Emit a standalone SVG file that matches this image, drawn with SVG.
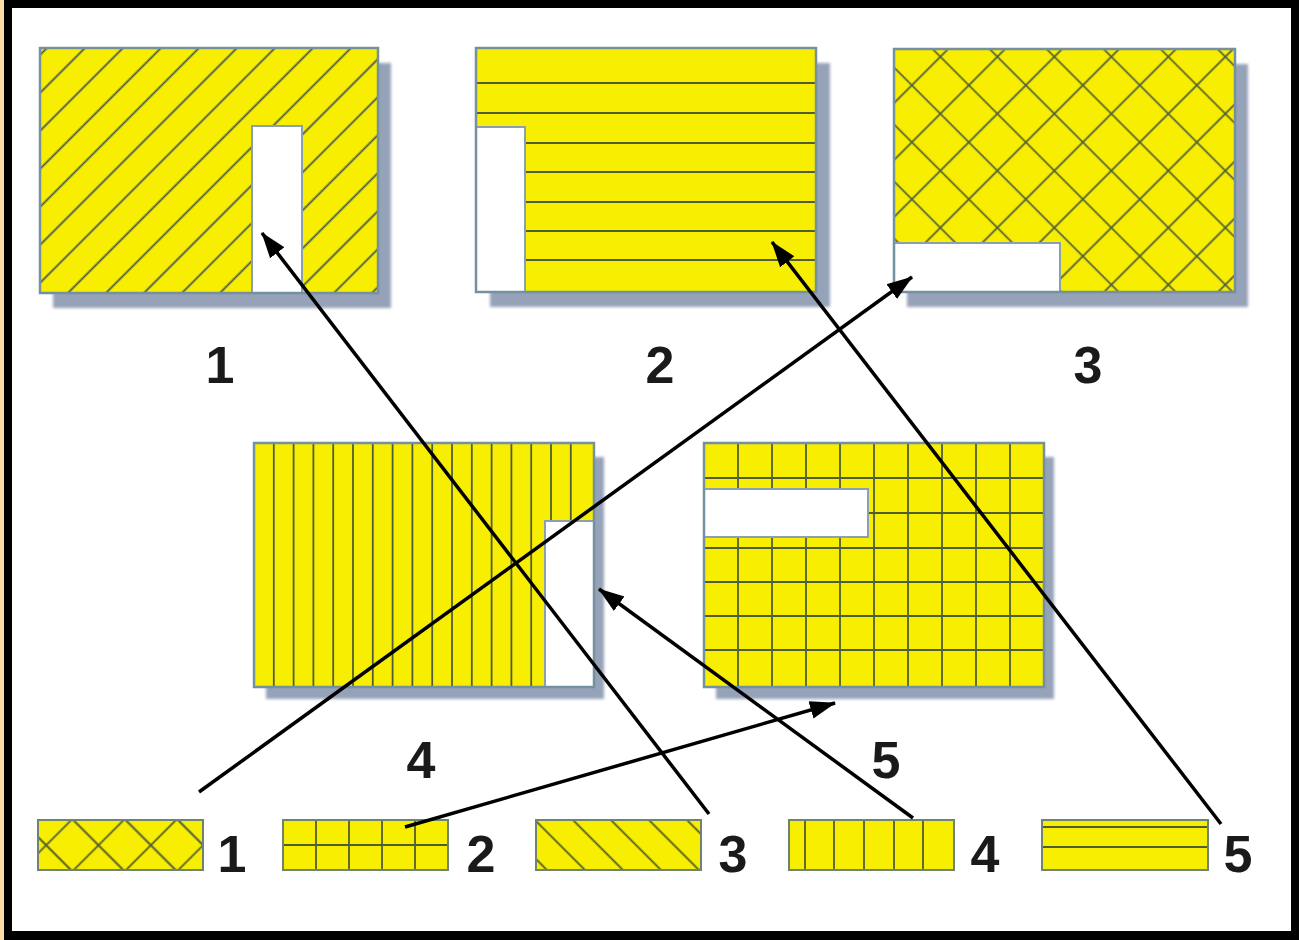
<svg xmlns="http://www.w3.org/2000/svg" width="1299" height="940" viewBox="0 0 1299 940">
<defs>
<style>
.fill{fill:#f8ee02}
.bd{fill:none;stroke:#7590a0;stroke-width:2.5}
.sbd{fill:none;stroke:#6f8470;stroke-width:2}
.h{stroke:#4f5d38;stroke-width:1.8;fill:none}
.notch{fill:#ffffff;stroke:#8aa0b0;stroke-width:2}
.sh{fill:#95a2b8;filter:url(#blur)}
.lbl{font-family:"Liberation Sans",Arial,sans-serif;font-size:52px;font-weight:bold;fill:#1a1a1a;text-anchor:middle}
.arr{stroke:#000;stroke-width:3.5;fill:none;marker-end:url(#ah)}
</style>
<filter id="blur" x="-10%" y="-10%" width="120%" height="120%"><feGaussianBlur stdDeviation="1.5"/></filter>
<marker id="ah" markerUnits="userSpaceOnUse" markerWidth="28" markerHeight="20" refX="25" refY="10" orient="auto"><path d="M0,1 L26,10 L0,19 Z" fill="#000"/></marker>
<pattern id="p1" patternUnits="userSpaceOnUse" width="26.87" height="20" patternTransform="rotate(45)"><line class="h" x1="13.4" y1="-1" x2="13.4" y2="21"/></pattern>
<pattern id="p3" patternUnits="userSpaceOnUse" width="40.3" height="40.3" patternTransform="rotate(45)"><line class="h" x1="20" y1="-1" x2="20" y2="41.3"/><line class="h" x1="-1" y1="20" x2="41.3" y2="20"/></pattern>
<pattern id="ps1" patternUnits="userSpaceOnUse" width="37" height="37" patternTransform="translate(20,8) rotate(45)"><line class="h" x1="18.5" y1="-1" x2="18.5" y2="38"/><line class="h" x1="-1" y1="18.5" x2="38" y2="18.5"/></pattern>
<pattern id="ps3" patternUnits="userSpaceOnUse" width="26.87" height="20" patternTransform="rotate(-45)"><line class="h" x1="13.4" y1="-1" x2="13.4" y2="21"/></pattern>
</defs>

<g id="frame">
<rect x="0" y="0" width="1299" height="940" fill="#f9dfa6"/>
<rect x="4" y="0" width="1295" height="940" fill="#000"/>
<rect x="12" y="8" width="1279" height="923" fill="#ffffff"/>
</g>

<g id="panel1">
<rect class="sh" x="53" y="63" width="338" height="245"/>
<rect class="fill" x="40" y="48" width="338" height="245"/>
<rect x="40" y="48" width="338" height="245" fill="url(#p1)"/>
<rect class="notch" x="252" y="126" width="50" height="167"/>
<rect class="bd" x="40" y="48" width="338" height="245"/>
<text class="lbl" x="220" y="383">1</text>
</g>

<g id="panel2">
<rect class="sh" x="490" y="63" width="340" height="244"/>
<rect class="fill" x="476" y="48" width="340" height="244"/>
<g class="h">
<line x1="476" y1="83" x2="816" y2="83"/>
<line x1="476" y1="113" x2="816" y2="113"/>
<line x1="476" y1="143" x2="816" y2="143"/>
<line x1="476" y1="172" x2="816" y2="172"/>
<line x1="476" y1="202" x2="816" y2="202"/>
<line x1="476" y1="231" x2="816" y2="231"/>
<line x1="476" y1="260" x2="816" y2="260"/>
</g>
<rect class="notch" x="476" y="127" width="49" height="165"/>
<rect class="bd" x="476" y="48" width="340" height="244"/>
<text class="lbl" x="660" y="383">2</text>
</g>

<g id="panel3">
<rect class="sh" x="907" y="64" width="341" height="243"/>
<rect class="fill" x="894" y="49" width="341" height="243"/>
<rect x="894" y="49" width="341" height="243" fill="url(#p3)"/>
<rect class="notch" x="894" y="243" width="166" height="49"/>
<rect class="bd" x="894" y="49" width="341" height="243"/>
<text class="lbl" x="1088" y="383">3</text>
</g>

<g id="panel4">
<rect class="sh" x="266" y="457" width="338" height="242"/>
<rect class="fill" x="254" y="443" width="340" height="244"/>
<g class="h">
<line x1="273.8" y1="443" x2="273.8" y2="687"/>
<line x1="293.6" y1="443" x2="293.6" y2="687"/>
<line x1="313.4" y1="443" x2="313.4" y2="687"/>
<line x1="333.2" y1="443" x2="333.2" y2="687"/>
<line x1="353" y1="443" x2="353" y2="687"/>
<line x1="372.8" y1="443" x2="372.8" y2="687"/>
<line x1="392.6" y1="443" x2="392.6" y2="687"/>
<line x1="412.4" y1="443" x2="412.4" y2="687"/>
<line x1="432.2" y1="443" x2="432.2" y2="687"/>
<line x1="452" y1="443" x2="452" y2="687"/>
<line x1="471.8" y1="443" x2="471.8" y2="687"/>
<line x1="491.6" y1="443" x2="491.6" y2="687"/>
<line x1="511.4" y1="443" x2="511.4" y2="687"/>
<line x1="531.2" y1="443" x2="531.2" y2="687"/>
<line x1="551" y1="443" x2="551" y2="687"/>
<line x1="570.8" y1="443" x2="570.8" y2="687"/>
</g>
<rect class="notch" x="545" y="521" width="49" height="166"/>
<rect class="bd" x="254" y="443" width="340" height="244"/>
<text class="lbl" x="421" y="778">4</text>
</g>

<g id="panel5">
<rect class="sh" x="716" y="457" width="338" height="242"/>
<rect class="fill" x="704" y="443" width="340" height="244"/>
<g class="h">
<line x1="738" y1="443" x2="738" y2="687"/>
<line x1="772" y1="443" x2="772" y2="687"/>
<line x1="806" y1="443" x2="806" y2="687"/>
<line x1="840" y1="443" x2="840" y2="687"/>
<line x1="874" y1="443" x2="874" y2="687"/>
<line x1="908" y1="443" x2="908" y2="687"/>
<line x1="942" y1="443" x2="942" y2="687"/>
<line x1="976" y1="443" x2="976" y2="687"/>
<line x1="1010" y1="443" x2="1010" y2="687"/>
<line x1="704" y1="478" x2="1044" y2="478"/>
<line x1="704" y1="513" x2="1044" y2="513"/>
<line x1="704" y1="548" x2="1044" y2="548"/>
<line x1="704" y1="582" x2="1044" y2="582"/>
<line x1="704" y1="616" x2="1044" y2="616"/>
<line x1="704" y1="650" x2="1044" y2="650"/>
</g>
<rect class="notch" x="704" y="489" width="164" height="48"/>
<rect class="bd" x="704" y="443" width="340" height="244"/>
<text class="lbl" x="886" y="778">5</text>
</g>

<g id="key1">
<rect class="fill" x="38" y="820" width="165" height="50"/>
<rect x="38" y="820" width="165" height="50" fill="url(#ps1)"/>
<rect class="sbd" x="38" y="820" width="165" height="50"/>
<text class="lbl" x="232" y="872">1</text>
</g>

<g id="key2">
<rect class="fill" x="283" y="820" width="165" height="50"/>
<g class="h">
<line x1="283" y1="845" x2="448" y2="845"/>
<line x1="316" y1="820" x2="316" y2="870"/>
<line x1="349" y1="820" x2="349" y2="870"/>
<line x1="382" y1="820" x2="382" y2="870"/>
<line x1="415" y1="820" x2="415" y2="870"/>
</g>
<rect class="sbd" x="283" y="820" width="165" height="50"/>
<text class="lbl" x="481" y="872">2</text>
</g>

<g id="key3">
<rect class="fill" x="536" y="820" width="165" height="50"/>
<rect x="536" y="820" width="165" height="50" fill="url(#ps3)"/>
<rect class="sbd" x="536" y="820" width="165" height="50"/>
<text class="lbl" x="733" y="872">3</text>
</g>

<g id="key4">
<rect class="fill" x="789" y="820" width="165" height="50"/>
<g class="h">
<line x1="805" y1="820" x2="805" y2="870"/>
<line x1="834" y1="820" x2="834" y2="870"/>
<line x1="864" y1="820" x2="864" y2="870"/>
<line x1="894" y1="820" x2="894" y2="870"/>
<line x1="923" y1="820" x2="923" y2="870"/>
</g>
<rect class="sbd" x="789" y="820" width="165" height="50"/>
<text class="lbl" x="985" y="872">4</text>
</g>

<g id="key5">
<rect class="fill" x="1042" y="820" width="166" height="50"/>
<g class="h">
<line x1="1042" y1="827" x2="1208" y2="827"/>
<line x1="1042" y1="847" x2="1208" y2="847"/>
</g>
<rect class="sbd" x="1042" y="820" width="166" height="50"/>
<text class="lbl" x="1238" y="872">5</text>
</g>

<g id="connectors">
<line class="arr" x1="199" y1="792" x2="912" y2="277"/>
<line class="arr" x1="405" y1="827" x2="835" y2="703"/>
<line class="arr" x1="709" y1="814" x2="262" y2="233"/>
<line class="arr" x1="913" y1="818" x2="599" y2="589"/>
<line class="arr" x1="1221" y1="824" x2="772" y2="242"/>
</g>
</svg>
